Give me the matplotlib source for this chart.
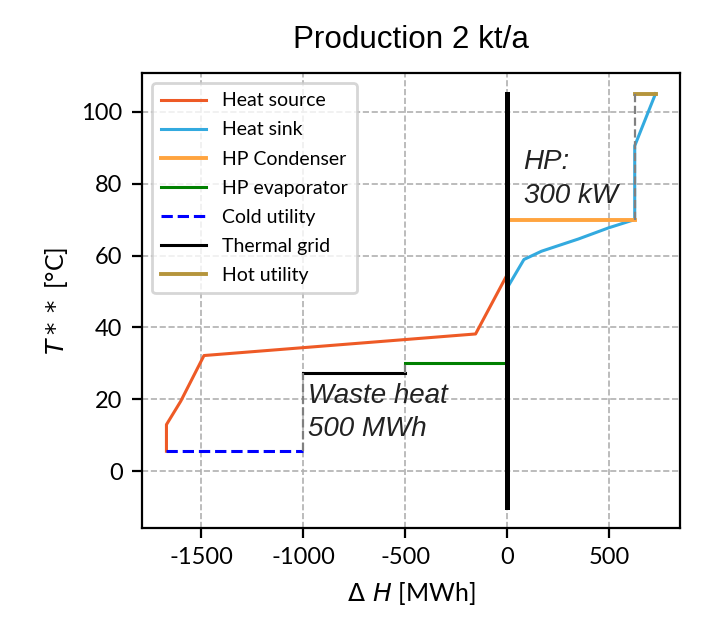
import matplotlib
matplotlib.use('Agg')
import matplotlib.pyplot as plt

# Composite curve data
source_dh = [-1670, -1670, -1600, -1486, -155, 0]
source_t = [5.6, 13, 19.5, 32.2, 38.2, 54.7]

sink_dh = [0, 82, 168, 349, 497, 625, 625, 727]
sink_t = [51, 58.9, 61.2, 64.6, 67.7, 70, 90.5, 105]

cond_dh = [0, 625]
cond_t = [70, 70]

evap_dh = [-500, 0]
evap_t = [30.2, 30.2]

cold_dh = [-1670, -1000]
cold_t = [5.6, 5.6]

grid_dh = [-1000, -500]
grid_t = [27.3, 27.3]
grid_axis_t = [-10, 105]

hot_dh = [625, 727]
hot_t = [105, 105]

plt.rcParams['font.family'] = ['Lato', 'DejaVu Sans']
plt.rcParams['mathtext.fontset'] = 'dejavusans'

fig = plt.figure(figsize=(3.52, 3.09), dpi=200)
ax = fig.add_axes([0.2017, 0.1456, 0.7642, 0.7363])

ax.plot(source_dh, source_t, color='#EE5A26', lw=1.1, label='Heat source')
ax.plot(sink_dh, sink_t, color='#33AADF', lw=1.1, label='Heat sink')
ax.plot(cond_dh, cond_t, color='#FFA43F', lw=1.4, label='HP Condenser')
ax.plot(evap_dh, evap_t, color='green', lw=1.1, label='HP evaporator')
ax.plot(cold_dh, cold_t, color='blue', lw=1.1, ls='--', label='Cold utility')
ax.plot(grid_dh, grid_t, color='black', lw=1.1, label='Thermal grid')
ax.plot(hot_dh, hot_t, color='#B5953C', lw=1.4, label='Hot utility')

# connectors between the stages
ax.plot([cold_dh[1], grid_dh[0]], [cold_t[1], grid_t[0]], color='grey', lw=0.8, ls='--')
ax.plot([grid_dh[1], evap_dh[0]], [grid_t[1], evap_t[0]], color='grey', lw=0.8, ls='--')
ax.plot([cond_dh[1], hot_dh[0]], [cond_t[1], hot_t[0]], color='grey', lw=0.8, ls='--')

# thermal grid axis
ax.plot([0, 0], grid_axis_t, color='black', lw=1.8)

ax.text(-1000 + 25, 24.5, 'Waste heat\n500 MWh', fontsize=10, style='italic',
        family='Liberation Sans', color='#222222', va='top', ha='left',
        linespacing=1.35)
ax.text(80, 89.5, 'HP:\n300 kW', fontsize=10, style='italic',
        family='Liberation Sans', color='#222222', va='top', ha='left',
        linespacing=1.4)

ax.grid(True, ls='--', color='#b0b0b0', lw=0.6)
ax.set_xticks([-1500, -1000, -500, 0, 500])
ax.set_xticklabels(['-1500', '-1000', '-500', '0', '500'])
ax.set_yticks([0, 20, 40, 60, 80, 100])
ax.tick_params(labelsize=8.5)
ax.set_xlabel(r'$\Delta\ H$ [MWh]', fontsize=9)
ax.set_ylabel(r'$T**$ [°C]', fontsize=9)
ax.set_title('Production 2 kt/a', fontsize=11.3, family='Liberation Sans', pad=9)
ax.legend(loc='upper left', fontsize=7.0, handlelength=2.3, labelspacing=0.62,
          borderpad=0.5)

fig.savefig('out.png', dpi=200)
